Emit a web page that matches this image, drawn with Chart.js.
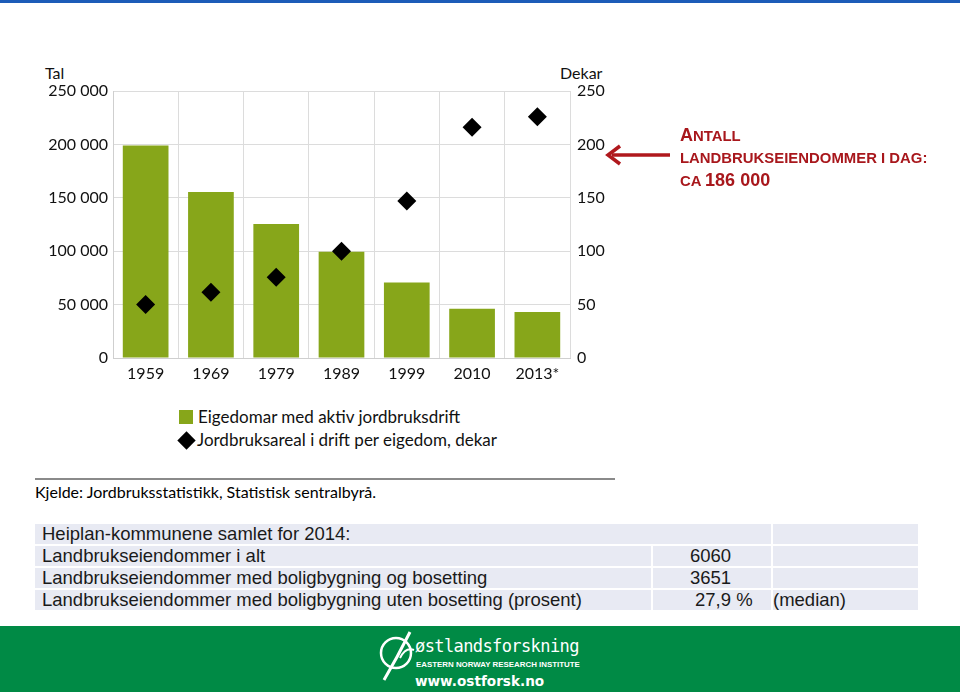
<!DOCTYPE html>
<html>
<head>
<meta charset="utf-8">
<script src="https://cdn.jsdelivr.net/npm/chart.js"></script>
<style>
  html, body { margin: 0; padding: 0; }
  body { width: 960px; height: 692px; position: relative; background: #fff; overflow: hidden; font-family: Lato, sans-serif; }
  .abs { position: absolute; white-space: nowrap; }
  #topbar { left: 0; top: 0; width: 960px; height: 3px; background: #1c5cb8; }
  #chartBox { left: 30px; top: 60px; width: 590px; height: 330px; }
  .axisTitle { font-size: 16px; color: #111; }
  .leg { font-size: 17px; color: #111; }
  .sq { display: inline-block; width: 14px; height: 14px; background: #87a61a; }
  .dia { display: inline-block; width: 13px; height: 13px; background: #000; transform: rotate(45deg); }
  #rule { left: 35px; top: 478px; width: 580px; height: 2px; background: #8a8a8a; }
  #src { left: 35px; top: 482px; font-size: 16px; color: #000; }
  #note { left: 680px; top: 124px; color: #a8171c; font-family: "Liberation Sans", Arial, sans-serif; font-weight: bold; font-size: 14.9px; line-height: 22px; }
  #note .big { font-size: 18px; }
  table { position: absolute; left: 33px; top: 522px; border-collapse: separate; border-spacing: 2px; font-family: "Liberation Sans", Arial, sans-serif; font-size: 18.5px; color: #1a1a1a; }
  td { background: #e8eaf3; height: 20px; padding: 0 0 0 7px; line-height: 20px; white-space: nowrap; }
  #foot { left: 0; top: 626px; width: 960px; height: 66px; background: #008a45; }
</style>
</head>
<body>
<div class="abs" id="topbar"></div>

<div class="abs axisTitle" style="left:45px; top:63px;">Tal</div>
<div class="abs axisTitle" style="left:560px; top:63px;">Dekar</div>
<div class="abs" id="chartBox"><canvas id="c" width="590" height="330"></canvas></div>

<div class="abs leg" style="left:179px; top:406px;"><span class="sq" style="vertical-align:-1px;"></span><span style="margin-left:5px;">Eigedomar med aktiv jordbruksdrift</span></div>
<div class="abs leg" style="left:180px; top:429px;"><span class="dia" style="vertical-align:-1px;"></span><span style="margin-left:4px;">Jordbruksareal i drift per eigedom, dekar</span></div>

<div class="abs" id="rule"></div>
<div class="abs" id="src">Kjelde: Jordbruksstatistikk, Statistisk sentralbyrå.</div>

<svg class="abs" style="left:600px; top:140px;" width="80" height="30">
  <line x1="12" y1="15" x2="70" y2="15" stroke="#b0181d" stroke-width="3.5"/>
  <polyline points="20,6 8,15 20,24" fill="none" stroke="#b0181d" stroke-width="3.5"/>
</svg>
<div class="abs" id="note"><span class="big">A</span>NTALL<br>LANDBRUKSEIENDOMMER I DAG:<br>CA <span class="big">186 000</span></div>

<table>
  <tr><td colspan="2" style="width:729px;">Heiplan-kommunene samlet for 2014:</td><td style="width:138px;"></td></tr>
  <tr><td style="width:609px;">Landbrukseiendommer i alt</td><td style="padding-left:37px; width:81px;">6060</td><td></td></tr>
  <tr><td>Landbrukseiendommer med boligbygning og bosetting</td><td style="padding-left:37px;">3651</td><td></td></tr>
  <tr><td>Landbrukseiendommer med boligbygning uten bosetting (prosent)</td><td style="padding-left:42px;">27,9 %</td><td style="padding-left:0;">(median)</td></tr>
</table>

<div class="abs" id="foot"></div>
<svg class="abs" style="left:376px; top:628px;" width="44" height="58">
  <circle cx="20" cy="25" r="15" fill="none" stroke="#fff" stroke-width="2.5"/>
  <path d="M8 52 C 18 35, 26 20, 34 4" fill="none" stroke="#fff" stroke-width="3"/>
  <path d="M24 30 C 28 22, 33 20, 38 22" fill="none" stroke="#fff" stroke-width="2"/>
</svg>
<div class="abs" style="left:415px; top:636px; color:#fff; font-family:'DejaVu Sans Mono', monospace; font-size:17px; letter-spacing:-0.6px;">østlandsforskning</div>
<div class="abs" style="left:416px; top:660px; color:#fff; font-family:'Liberation Sans', Arial, sans-serif; font-weight:bold; font-size:7.9px;">EASTERN NORWAY RESEARCH INSTITUTE</div>
<div class="abs" style="left:415px; top:673px; color:#fff; font-family:'DejaVu Sans', sans-serif; font-weight:bold; font-size:13.6px;">www.ostforsk.no</div>

<script>
const years = ['1959', '1969', '1979', '1989', '1999', '2010', '2013*'];
const properties = [199000, 155500, 125500, 99400, 70800, 46200, 43100];
const areaPerProperty = [50, 61.5, 75.5, 100, 147, 216, 226];
const leftTicks = [0, 50000, 100000, 150000, 200000, 250000];
const rightTicks = [0, 50, 100, 150, 200, 250];

const fmt = v => String(v).replace(/\B(?=(\d{3})+(?!\d))/g, ' ');
const tickFont = { family: 'Lato', size: 16 };

new Chart(document.getElementById('c'), {
  data: {
    labels: years,
    datasets: [
      {
        type: 'line',
        label: 'Jordbruksareal i drift per eigedom, dekar',
        data: areaPerProperty,
        yAxisID: 'y1',
        showLine: false,
        pointStyle: 'rectRot',
        pointRadius: 9.5,
        pointBackgroundColor: '#000',
        pointBorderWidth: 0,
        order: 0
      },
      {
        type: 'bar',
        label: 'Eigedomar med aktiv jordbruksdrift',
        data: properties,
        yAxisID: 'y',
        backgroundColor: '#87a61a',
        categoryPercentage: 0.7,
        barPercentage: 1,
        order: 1
      }
    ]
  },
  options: {
    responsive: false,
    animation: false,
    layout: { padding: { top: 31 } },
    plugins: { legend: { display: false }, tooltip: { enabled: false } },
    scales: {
      x: {
        grid: { color: '#dcdcdc', offset: true, drawTicks: false },
        border: { color: '#cfcfcf' },
        ticks: { color: '#111', font: tickFont, padding: 6 },
        afterFit: s => { s.height = 32; }
      },
      y: {
        position: 'left',
        min: 0, max: 250000,
        afterBuildTicks: s => { s.ticks = leftTicks.map(v => ({ value: v })); },
        grid: { color: '#dcdcdc', drawTicks: false },
        border: { color: '#cfcfcf' },
        ticks: { color: '#111', font: tickFont, padding: 5, callback: v => fmt(v) },
        afterFit: s => { s.width = 83; }
      },
      y1: {
        position: 'right',
        min: 0, max: 250,
        afterBuildTicks: s => { s.ticks = rightTicks.map(v => ({ value: v })); },
        grid: { display: false, drawTicks: false },
        border: { display: false },
        ticks: { color: '#111', font: tickFont, padding: 7 },
        afterFit: s => { s.width = 50; }
      }
    }
  }
});
</script>
</body>
</html>
